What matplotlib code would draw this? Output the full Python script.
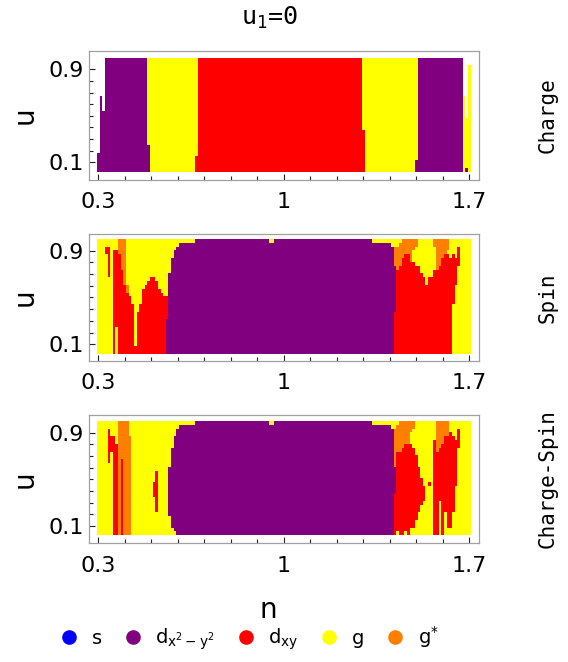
import matplotlib
matplotlib.use('Agg')
import matplotlib.pyplot as plt
import numpy as np
from matplotlib.colors import ListedColormap, BoundaryNorm
from matplotlib.lines import Line2D

plt.rcParams['font.family'] = ['DejaVu Sans']
plt.rcParams['mathtext.fontset'] = 'dejavusans'

# grid of the phase diagram: filling n (columns) and interaction u (rows)
n_values = np.round(np.arange(0.30, 1.7001, 0.01), 2)
u_edges = np.linspace(0.02, 1.0, 31)

# phase codes: W = no data, P = d_{x2-y2}, R = d_xy, Y = g, O = g*
phase_codes = {'W': 0, 'S': 1, 'P': 2, 'R': 3, 'Y': 4, 'O': 5}
phase_colors = ['#0000ff', '#800080', '#ff0000', '#ffff00', '#ff8000']
legend_labels = ['s', r'$\mathregular{d_{x^2-y^2}}$', r'$\mathregular{d_{xy}}$',
                 'g', r'$\mathregular{g^{*}}$']

# each entry: (n from, n to, column profile "phase:upper u" from bottom to top)
charge = [
    (0.30, 0.30, "P:.19 W:1"),
    (0.31, 0.31, "P:.66 W:1"),
    (0.32, 0.32, "P:.53 W:1"),
    (0.33, 0.48, "P:1"),
    (0.49, 0.49, "P:.25 Y:1"),
    (0.50, 0.66, "Y:1"),
    (0.67, 0.67, "R:.15 Y:1"),
    (0.68, 1.29, "R:1"),
    (1.30, 1.30, "R:.39 Y:1"),
    (1.31, 1.49, "Y:1"),
    (1.50, 1.50, "P:.11 Y:1"),
    (1.51, 1.67, "P:1"),
    (1.68, 1.68, "Y:.66 W:1"),
    (1.69, 1.69, "P:.05 Y:.49 W:1"),
    (1.70, 1.70, "Y:.93 W:1"),
]

spin = [
    (0.30, 1.70, "Y:1"),
    (0.33, 0.33, "Y:.88 R:.92 Y:1"),
    (0.34, 0.34, "Y:.66 R:.92 Y:1"),
    (0.36, 0.36, "R:.90 Y:1"),
    (0.37, 0.37, "Y:.26 R:.90 Y:1"),
    (0.38, 0.38, "R:.86 O:1"),
    (0.39, 0.39, "R:.75 O:1"),
    (0.40, 0.40, "R:.62 O:1"),
    (0.41, 0.41, "R:.54 O:.62 Y:1"),
    (0.42, 0.42, "R:.51 Y:1"),
    (0.43, 0.43, "R:.44 Y:1"),
    (0.44, 0.44, "R:.08 Y:1"),
    (0.45, 0.45, "R:.38 Y:1"),
    (0.46, 0.46, "R:.46 Y:1"),
    (0.47, 0.47, "R:.57 Y:1"),
    (0.48, 0.48, "R:.60 Y:1"),
    (0.49, 0.49, "R:.63 Y:1"),
    (0.50, 0.51, "R:.66 Y:1"),
    (0.52, 0.52, "R:.63 Y:1"),
    (0.53, 0.53, "R:.57 Y:1"),
    (0.54, 0.54, "R:.54 Y:1"),
    (0.55, 0.55, "R:.52 Y:1"),
    (0.56, 0.56, "P:.31 R:.50 Y:1"),
    (0.57, 0.57, "P:.71 Y:1"),
    (0.58, 0.58, "P:.85 Y:1"),
    (0.59, 0.59, "P:.91 Y:1"),
    (0.60, 0.60, "P:.945 Y:1"),
    (0.61, 0.66, "P:.975 Y:1"),
    (0.67, 1.33, "P:1"),
    (0.95, 0.96, "P:.975 Y:1"),
    (1.34, 1.36, "P:.975 Y:1"),
    (1.37, 1.38, "P:.97 Y:1"),
    (1.39, 1.40, "P:.955 Y:1"),
    (1.41, 1.41, "P:.93 Y:1"),
    (1.42, 1.42, "R:.38 P:.77 O:.94 Y:1"),
    (1.43, 1.43, "R:.74 O:.95 Y:1"),
    (1.44, 1.44, "R:.755 O:.97 Y:1"),
    (1.45, 1.45, "R:.84 O:1"),
    (1.46, 1.46, "R:.86 O:1"),
    (1.47, 1.47, "R:.855 O:1"),
    (1.48, 1.48, "R:.81 O:1"),
    (1.49, 1.49, "R:.80 Y:.9 O:1"),
    (1.50, 1.50, "R:.77 Y:.95 O:1"),
    (1.51, 1.51, "R:.755 Y:1"),
    (1.52, 1.52, "R:.71 Y:1"),
    (1.53, 1.53, "R:.68 Y:1"),
    (1.54, 1.54, "R:.60 Y:1"),
    (1.55, 1.56, "R:.68 Y:1"),
    (1.57, 1.57, "R:.73 Y:.93 O:1"),
    (1.58, 1.58, "R:.74 O:1"),
    (1.59, 1.59, "R:.78 O:1"),
    (1.60, 1.60, "R:.825 O:1"),
    (1.61, 1.61, "R:.87 O:1"),
    (1.62, 1.62, "R:.87 Y:.9 O:1"),
    (1.63, 1.63, "R:.825 Y:1"),
    (1.64, 1.64, "Y:.43 R:.87 Y:1"),
    (1.65, 1.65, "Y:.6 R:.83 Y:1"),
    (1.66, 1.66, "Y:.76 R:.93 Y:1"),
]

charge_spin = [
    (0.30, 1.70, "Y:1"),
    (0.34, 0.34, "Y:.63 R:.93 Y:1"),
    (0.35, 0.35, "Y:.74 R:.87 Y:1"),
    (0.36, 0.36, "R:.87 Y:1"),
    (0.37, 0.37, "R:.82 Y:1"),
    (0.38, 0.38, "O:1"),
    (0.39, 0.39, "R:.68 O:1"),
    (0.40, 0.41, "O:1"),
    (0.42, 0.42, "O:.86 Y:1"),
    (0.51, 0.51, "Y:.36 R:.47 Y:1"),
    (0.52, 0.52, "Y:.20 R:.59 Y:1"),
    (0.57, 0.57, "Y:.19 P:.61 Y:1"),
    (0.58, 0.58, "Y:.10 P:.76 Y:1"),
    (0.59, 0.59, "Y:.05 P:.87 Y:1"),
    (0.60, 0.60, "P:.93 Y:1"),
    (0.61, 0.61, "P:.955 Y:1"),
    (0.62, 0.66, "P:.975 Y:1"),
    (0.67, 1.33, "P:1"),
    (0.95, 0.96, "P:.975 Y:1"),
    (1.34, 1.36, "P:.975 Y:1"),
    (1.37, 1.38, "P:.97 Y:1"),
    (1.39, 1.40, "P:.96 Y:1"),
    (1.41, 1.41, "P:.94 Y:1"),
    (1.42, 1.42, "R:.38 P:.6 O:.95 Y:1"),
    (1.43, 1.43, "Y:.05 R:.73 O:.97 Y:1"),
    (1.44, 1.44, "R:.73 O:1"),
    (1.45, 1.45, "R:.77 O:1"),
    (1.46, 1.46, "Y:.05 R:.80 O:1"),
    (1.47, 1.47, "R:.80 O:1"),
    (1.48, 1.48, "Y:.07 R:.82 Y:.9 O:1"),
    (1.49, 1.49, "Y:.1 R:.78 Y:.93 O:1"),
    (1.50, 1.50, "Y:.14 R:.72 Y:1"),
    (1.51, 1.51, "Y:.2 R:.62 Y:1"),
    (1.52, 1.52, "Y:.27 R:.52 Y:1"),
    (1.53, 1.53, "Y:.33 R:.45 Y:1"),
    (1.55, 1.55, "Y:.43 R:.47 Y:1"),
    (1.57, 1.57, "R:.84 Y:1"),
    (1.58, 1.58, "R:.73 O:1"),
    (1.59, 1.59, "Y:.3 R:.78 O:1"),
    (1.60, 1.60, "R:.80 O:1"),
    (1.61, 1.61, "Y:.2 R:.86 O:1"),
    (1.62, 1.62, "Y:.08 R:.88 O:1"),
    (1.63, 1.63, "Y:.07 R:.91 Y:1"),
    (1.64, 1.64, "Y:.2 R:.87 Y:1"),
    (1.65, 1.65, "Y:.45 R:.85 Y:1"),
    (1.66, 1.66, "Y:.77 R:.93 Y:1"),
]

panels = [charge, spin, charge_spin]
panel_names = ['Charge', 'Spin', 'Charge-Spin']


def build_grid(spec):
    u_mid = 0.5 * (u_edges[:-1] + u_edges[1:])
    grid = np.zeros((len(u_mid), len(n_values)))
    for n_from, n_to, profile in spec:
        segs = [(tok.split(':')[0], float(tok.split(':')[1])) for tok in profile.split()]
        cols = (n_values >= n_from - 1e-9) & (n_values <= n_to + 1e-9)
        for j, u in enumerate(u_mid):
            for ph, top in segs:
                if u < top:
                    grid[j, cols] = phase_codes[ph]
                    break
    return np.ma.masked_equal(grid, 0)


cmap = ListedColormap(phase_colors)
norm = BoundaryNorm([0.5, 1.5, 2.5, 3.5, 4.5, 5.5], cmap.N)
n_edges = np.append(n_values - 0.005, n_values[-1] + 0.005)

W, H = 568, 662
fig = plt.figure(figsize=(W / 100, H / 100), dpi=100)

# axes frames in pixels: (top, bottom)
frames = [(51, 180), (234, 361), (415, 543)]
ylims = [(-0.052, 1.057), (-0.043, 1.043), (-0.046, 1.052)]

for spec, name, (top, bot), ylim in zip(panels, panel_names, frames, ylims):
    ax = fig.add_axes([89 / W, 1 - bot / H, 390 / W, (bot - top) / H])
    ax.pcolormesh(n_edges, u_edges, build_grid(spec), cmap=cmap, norm=norm)
    ax.set_xlim(0.265, 1.737)
    ax.set_ylim(*ylim)
    ax.set_xticks([0.3, 1.0, 1.7])
    ax.set_xticklabels(['0.3', '1', '1.7'])
    ax.set_xticks(np.round(np.arange(0.3, 1.71, 0.1), 1), minor=True)
    ax.set_yticks([0.1, 0.9])
    ax.set_yticklabels(['0.1', '0.9'])
    ax.set_yticks(np.round(np.arange(0.1, 0.91, 0.1), 1), minor=True)
    ax.tick_params(which='both', direction='in', top=False, right=False,
                   color='#222222', width=0.8)
    ax.tick_params(which='major', length=4, labelsize=16)
    ax.tick_params(which='minor', length=2.6)
    ax.tick_params(axis='x', which='major', pad=9)
    ax.tick_params(axis='y', which='major', pad=4)
    for sp in ax.spines.values():
        sp.set_color('#a0a0a0')
        sp.set_linewidth(0.9)
    yc = 1 - (top + bot) / 2 / H
    fig.text(25 / W, yc, 'u', rotation=90, fontsize=20, ha='center', va='center')
    fig.text(548 / W, yc, name, rotation=90, fontsize=15, family='DejaVu Sans Mono',
             ha='center', va='center')

fig.text(270 / W, 1 - 18 / H, r'$\mathtt{u_1}$=0', fontsize=18,
         family='DejaVu Sans Mono', ha='center', va='center')
fig.text(268 / W, 1 - 610 / H, 'n', fontsize=20, ha='center', va='center')

handles = [Line2D([], [], linestyle='none', marker='o', markersize=9.5,
                  markerfacecolor=c, markeredgecolor=c) for c in phase_colors]
fig.legend(handles, legend_labels, loc='center', bbox_to_anchor=(249 / W, 1 - 638 / H),
           ncol=5, frameon=False, fontsize=14, handlelength=1.0, handletextpad=0.65,
           columnspacing=1.1, borderpad=0.1)

plt.savefig('out.png', dpi=100)
plt.close()
